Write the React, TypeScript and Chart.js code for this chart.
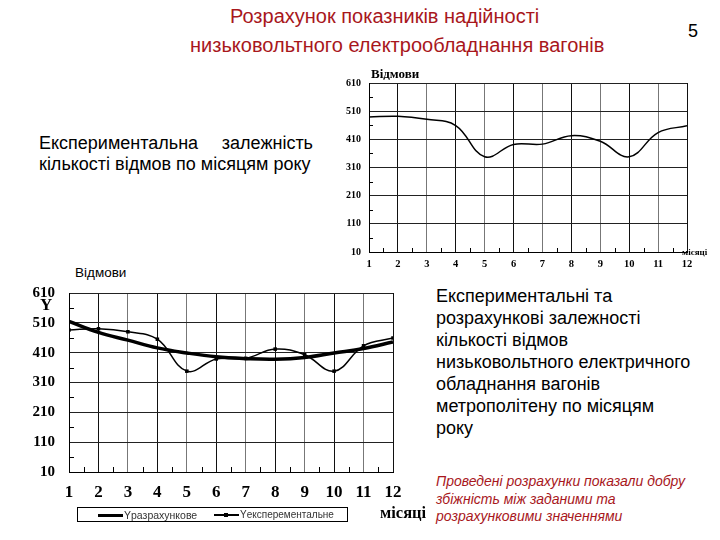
import React, { useEffect, useRef } from "react";
import { Chart, registerables } from "chart.js";
Chart.register(...registerables);

const months = [1, 2, 3, 4, 5, 6, 7, 8, 9, 10, 11, 12];
const yTicks = [10, 110, 210, 310, 410, 510, 610];
const yMinor = [60, 160, 260, 360, 460, 560];
const xMinor = [1.5, 2.5, 3.5, 4.5, 5.5, 6.5, 7.5, 8.5, 9.5, 10.5, 11.5];
const topExperimental = [489, 492, 481, 459, 348, 392, 393, 423, 403, 348, 434, 458];
const bottomExperimental = [486, 490, 480, 455, 348, 389, 391, 422, 403, 348, 433, 459];
const bottomCalculated = [515, 478, 452, 426, 409, 396, 390, 388, 394, 409, 424, 446];

const RED = "#a8171c";

const minorTicks = {
  id: "minorTicks",
  afterDraw(chart: any) {
    const { ctx, chartArea, scales } = chart;
    const len = chart.options.plugins.minorTicks?.len ?? 5;
    ctx.save();
    ctx.strokeStyle = "#000";
    ctx.lineWidth = 1;
    yMinor.forEach((v) => {
      const y = Math.round(scales.y.getPixelForValue(v)) + 0.5;
      ctx.beginPath();
      ctx.moveTo(chartArea.left, y);
      ctx.lineTo(chartArea.left + len, y);
      ctx.stroke();
    });
    xMinor.forEach((v) => {
      const x = Math.round(scales.x.getPixelForValue(v)) + 0.5;
      ctx.beginPath();
      ctx.moveTo(x, chartArea.bottom);
      ctx.lineTo(x, chartArea.bottom - len);
      ctx.stroke();
    });
    ctx.restore();
  },
};

function vColor(c: any) {
  const i = c.index ?? 0;
  if (i === 0) return "#000";
  return i % 2 === 1 ? "#111" : "#777";
}

function makeScales(opts: {
  yWidth: number;
  xHeight: number;
  xFontSize: number;
  yFontSize: number;
  xPad: number;
  yPad: number;
}) {
  const fam = '"Liberation Serif", "Times New Roman", serif';
  return {
    x: {
      type: "linear" as const,
      min: 1,
      max: 12,
      afterBuildTicks: (s: any) => {
        s.ticks = months.map((v) => ({ value: v }));
      },
      afterFit: (s: any) => {
        s.height = opts.xHeight;
      },
      grid: { color: vColor, lineWidth: 1, drawTicks: false },
      border: { display: true, color: "#000", width: 1 },
      ticks: {
        font: { family: fam, size: opts.xFontSize, weight: "bold" as const },
        color: "#000",
        padding: opts.xPad,
        maxRotation: 0,
        autoSkip: false,
      },
    },
    y: {
      type: "linear" as const,
      min: 10,
      max: 610,
      afterBuildTicks: (s: any) => {
        s.ticks = yTicks.map((v) => ({ value: v }));
      },
      afterFit: (s: any) => {
        s.width = opts.yWidth;
      },
      grid: { color: "#222", lineWidth: 1, drawTicks: false },
      border: { display: true, color: "#000", width: 1 },
      ticks: {
        font: { family: fam, size: opts.yFontSize, weight: "bold" as const },
        color: "#000",
        padding: opts.yPad,
        autoSkip: false,
      },
    },
  };
}

function TopChart() {
  const ref = useRef<HTMLCanvasElement>(null);
  useEffect(() => {
    const chart = new Chart(ref.current!, {
      type: "line",
      data: {
        datasets: [
          {
            label: "Відмови",
            data: months.map((m, i) => ({ x: m, y: topExperimental[i] })),
            borderColor: "#000",
            borderWidth: 1.5,
            pointRadius: 0,
            tension: 0.4,
            fill: false,
          },
        ],
      },
      options: {
        responsive: false,
        animation: false,
        devicePixelRatio: 1,
        layout: { padding: { top: 23, right: 33, left: 0, bottom: 0 } },
        plugins: { legend: { display: false }, tooltip: { enabled: false }, minorTicks: { len: 4 } } as any,
        scales: makeScales({ yWidth: 29, xHeight: 23, xFontSize: 10.5, yFontSize: 10, xPad: 6, yPad: 8 }) as any,
      },
      plugins: [minorTicks],
    });
    return () => chart.destroy();
  }, []);
  return <canvas ref={ref} width={380} height={215} style={{ width: 380, height: 215 }} />;
}

function BottomChart() {
  const ref = useRef<HTMLCanvasElement>(null);
  useEffect(() => {
    const chart = new Chart(ref.current!, {
      type: "line",
      data: {
        datasets: [
          {
            label: "Yразрахункове",
            data: months.map((m, i) => ({ x: m, y: bottomCalculated[i] })),
            borderColor: "#000",
            borderWidth: 3.5,
            pointRadius: 0,
            tension: 0.4,
            fill: false,
          },
          {
            label: "Yексперементальне",
            data: months.map((m, i) => ({ x: m, y: bottomExperimental[i] })),
            borderColor: "#000",
            backgroundColor: "#000",
            borderWidth: 1.5,
            pointStyle: "rect",
            pointRadius: 2.5,
            pointBorderWidth: 0,
            tension: 0.4,
            fill: false,
          },
        ],
      },
      options: {
        responsive: false,
        animation: false,
        devicePixelRatio: 1,
        layout: { padding: { top: 19, right: 27, left: 0, bottom: 0 } },
        plugins: { legend: { display: false }, tooltip: { enabled: false }, minorTicks: { len: 5 } } as any,
        scales: makeScales({ yWidth: 69, xHeight: 33, xFontSize: 17, yFontSize: 15, xPad: 10, yPad: 14 }) as any,
      },
      plugins: [minorTicks],
    });
    return () => chart.destroy();
  }, []);
  return <canvas ref={ref} width={420} height={235} style={{ width: 420, height: 235 }} />;
}

const abs = (left: number, top: number, extra: React.CSSProperties = {}): React.CSSProperties => ({
  position: "absolute",
  left,
  top,
  whiteSpace: "nowrap",
  ...extra,
});

const sans = '"Liberation Sans", Arial, sans-serif';
const serif = '"Liberation Serif", "Times New Roman", serif';

export default function App() {
  return (
    <div
      style={{
        position: "fixed",
        left: 0,
        top: 0,
        width: 720,
        height: 540,
        background: "#fff",
        fontFamily: sans,
        overflow: "hidden",
      }}
    >
      <div style={abs(230, 4, { color: RED, fontSize: 20, lineHeight: "24px" })}>
        Розрахунок показників надійності
      </div>
      <div style={abs(190, 33, { color: RED, fontSize: 20, lineHeight: "24px" })}>
        низьковольтного електрообладнання вагонів
      </div>
      <div style={abs(688, 20, { color: "#000", fontSize: 18, lineHeight: "22px" })}>5</div>

      <div style={{ position: "absolute", left: 39, top: 133, width: 274, fontSize: 18, lineHeight: "21px", color: "#000" }}>
        <div style={{ textAlign: "justify", textAlignLast: "justify" }}>Експериментальна залежність</div>
        <div style={{ whiteSpace: "nowrap" }}>кількості відмов по місяцям року</div>
      </div>

      <div style={{ position: "absolute", left: 340, top: 60 }}>
        <TopChart />
      </div>
      <div style={abs(371, 66, { fontFamily: serif, fontWeight: "bold", fontSize: 13, color: "#000" })}>Відмови</div>
      <div style={abs(682, 247, { fontFamily: serif, fontWeight: "bold", fontSize: 9, color: "#000" })}>місяці</div>

      <div style={abs(75, 265, { fontSize: 13.5, color: "#000" })}>Відмови</div>
      <div style={{ position: "absolute", left: 0, top: 270 }}>
        <BottomChart />
      </div>
      <div style={abs(40, 295, { fontFamily: serif, fontWeight: "bold", fontSize: 17, color: "#000" })}>Y</div>

      <div
        style={{
          position: "absolute",
          left: 77,
          top: 507,
          width: 271,
          height: 15,
          border: "1px solid #000",
          boxSizing: "border-box",
          background: "#fff",
        }}
      >
        <div style={{ position: "absolute", left: 20, top: 5.5, width: 25, height: 3, background: "#000" }} />
        <div style={abs(46, 0, { fontSize: 10.5, lineHeight: "14px", color: "#333" })}>Yразрахункове</div>
        <div style={{ position: "absolute", left: 136, top: 6, width: 25, height: 1.5, background: "#000" }} />
        <div style={{ position: "absolute", left: 146, top: 4.5, width: 4, height: 4, background: "#000" }} />
        <div style={abs(162, 0, { fontSize: 10, lineHeight: "14px", color: "#333" })}>Yексперементальне</div>
      </div>
      <div style={abs(380, 503, { fontFamily: serif, fontWeight: "bold", fontSize: 16.5, color: "#000" })}>місяці</div>

      <div style={{ position: "absolute", left: 436, top: 285, fontSize: 18, lineHeight: "22px", color: "#000", whiteSpace: "nowrap" }}>
        <div>Експериментальні та</div>
        <div>розрахункові залежності</div>
        <div>кількості відмов</div>
        <div>низьковольтного електричного</div>
        <div>обладнання вагонів</div>
        <div>метрополітену по місяцям</div>
        <div>року</div>
      </div>

      <div style={{ position: "absolute", left: 436, top: 473, fontSize: 14, lineHeight: "17.5px", color: RED, fontStyle: "italic", whiteSpace: "nowrap" }}>
        <div>Проведені розрахунки показали добру</div>
        <div>збіжність між заданими та</div>
        <div>розрахунковими значеннями</div>
      </div>
    </div>
  );
}
